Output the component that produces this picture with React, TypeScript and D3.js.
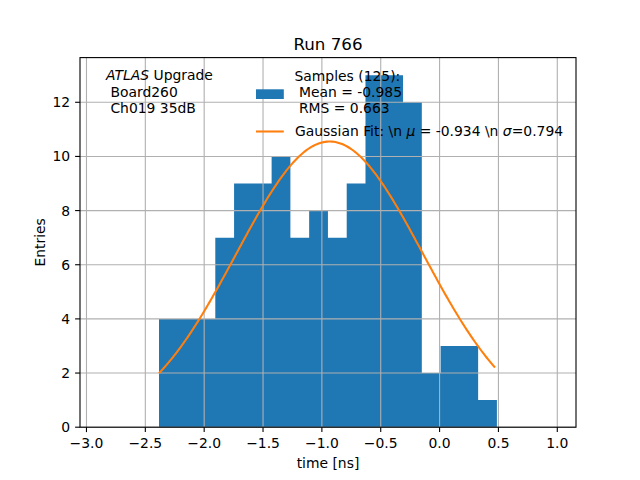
import * as d3 from 'd3';

// histogram of hit times, 18 bins
const binStart = -2.384;
const binWidth = 0.1595;
const counts = [4, 4, 4, 7, 9, 9, 10, 7, 8, 7, 9, 13, 13, 12, 2, 3, 3, 1];

// gaussian fit parameters
const fitMu = -0.934;
const fitSigma = 0.794;
const fitAmp = 10.55;
const fitRange = [-2.384, 0.471];

const xTicks = [-3.0, -2.5, -2.0, -1.5, -1.0, -0.5, 0.0, 0.5, 1.0];
const yTicks = [0, 2, 4, 6, 8, 10, 12];

const W = 640;
const H = 480;
const M = { left: 80, right: 576, top: 57.6, bottom: 427.2 };
const FONT = 'DejaVu Sans, sans-serif';
const FS = 13.9;
const GRID = '#b0b0b0';
const BLUE = '#1f77b4';
const ORANGE = '#ff7f0e';

const fmt = (v: number) => {
  const s = v.toFixed(1);
  return v < 0 ? '\u2212' + s.slice(1) : s;
};

export default function App() {
  const x = d3.scaleLinear().domain([-3.055, 1.159]).range([M.left, M.right]);
  const y = d3.scaleLinear().domain([0, 13.65]).range([M.bottom, M.top]);

  const bins = counts.map((c, i) => ({
    x0: binStart + i * binWidth,
    x1: binStart + (i + 1) * binWidth,
    c,
  }));

  // all bars in one path so there are no seams between neighbours
  const barPath = d3.path();
  bins.forEach((b) => {
    barPath.rect(x(b.x0), y(b.c), x(b.x1) - x(b.x0), y(0) - y(b.c));
  });

  const gauss = (t: number) => fitAmp * Math.exp(-((t - fitMu) ** 2) / (2 * fitSigma * fitSigma));
  const samples = d3.range(0, 201).map((k) => fitRange[0] + ((fitRange[1] - fitRange[0]) * k) / 200);
  const line = d3
    .line<number>()
    .x((t) => x(t))
    .y((t) => y(gauss(t)));

  return (
    <svg
      width={W}
      height={H}
      style={{ position: 'absolute', left: 0, top: 0, background: '#fff' }}
      fontFamily={FONT}
    >
      <rect x={0} y={0} width={W} height={H} fill="#fff" />

      {/* bars */}
      <path d={barPath.toString()} fill={BLUE} />

      {/* grid */}
      <g stroke={GRID} strokeWidth={1.1}>
        {xTicks.map((t) => (
          <line key={'gx' + t} x1={x(t)} x2={x(t)} y1={M.top} y2={M.bottom} />
        ))}
        {yTicks.map((t) => (
          <line key={'gy' + t} x1={M.left} x2={M.right} y1={y(t)} y2={y(t)} />
        ))}
      </g>

      {/* fit curve */}
      <path d={line(samples) || ''} fill="none" stroke={ORANGE} strokeWidth={2.08} />

      {/* spines */}
      <rect
        x={M.left}
        y={M.top}
        width={M.right - M.left}
        height={M.bottom - M.top}
        fill="none"
        stroke="#000"
        strokeWidth={1.1}
      />

      {/* x ticks */}
      {xTicks.map((t) => (
        <g key={'xt' + t}>
          <line x1={x(t)} x2={x(t)} y1={M.bottom} y2={M.bottom + 4.9} stroke="#000" strokeWidth={1.1} />
          <text x={x(t)} y={M.bottom + 20.5} fontSize={FS} textAnchor="middle">
            {fmt(t)}
          </text>
        </g>
      ))}

      {/* y ticks */}
      {yTicks.map((t) => (
        <g key={'yt' + t}>
          <line x1={M.left - 4.9} x2={M.left} y1={y(t)} y2={y(t)} stroke="#000" strokeWidth={1.1} />
          <text x={M.left - 9.8} y={y(t) + 5} fontSize={FS} textAnchor="end">
            {t}
          </text>
        </g>
      ))}

      {/* labels */}
      <text x={(M.left + M.right) / 2} y={49.5} fontSize={16.7} textAnchor="middle">
        Run 766
      </text>
      <text x={(M.left + M.right) / 2} y={467.5} fontSize={FS} textAnchor="middle">
        time [ns]
      </text>
      <text
        transform={`translate(45, ${(M.top + M.bottom) / 2}) rotate(-90)`}
        fontSize={FS}
        textAnchor="middle"
      >
        Entries
      </text>

      {/* annotation */}
      <g fontSize={FS}>
        <text x={106} y={79.5}>
          <tspan fontStyle="italic">ATLAS</tspan> Upgrade
        </text>
        <text x={106} y={96.5} xmlSpace="preserve">
          {' Board260'}
        </text>
        <text x={106} y={113.3} xmlSpace="preserve">
          {' Ch019 35dB'}
        </text>
      </g>

      {/* legend */}
      <g fontSize={FS}>
        <rect x={256} y={89.3} width={27.8} height={9.7} fill={BLUE} />
        <text x={294.5} y={81} xmlSpace="preserve">
          {'Samples (125):'}
        </text>
        <text x={294.5} y={96.7} xmlSpace="preserve">
          {' Mean = -0.985'}
        </text>
        <text x={294.5} y={113.3} xmlSpace="preserve">
          {' RMS = 0.663'}
        </text>
        <line x1={256} x2={283.8} y1={131.5} y2={131.5} stroke={ORANGE} strokeWidth={2.08} />
        <text x={295} y={136} xmlSpace="preserve">
          {'Gaussian Fit: \\n '}
          <tspan fontStyle="italic">{'\u03bc'}</tspan>
          {' = -0.934 \\n '}
          <tspan fontStyle="italic">{'\u03c3'}</tspan>
          {'=0.794'}
        </text>
      </g>
    </svg>
  );
}
